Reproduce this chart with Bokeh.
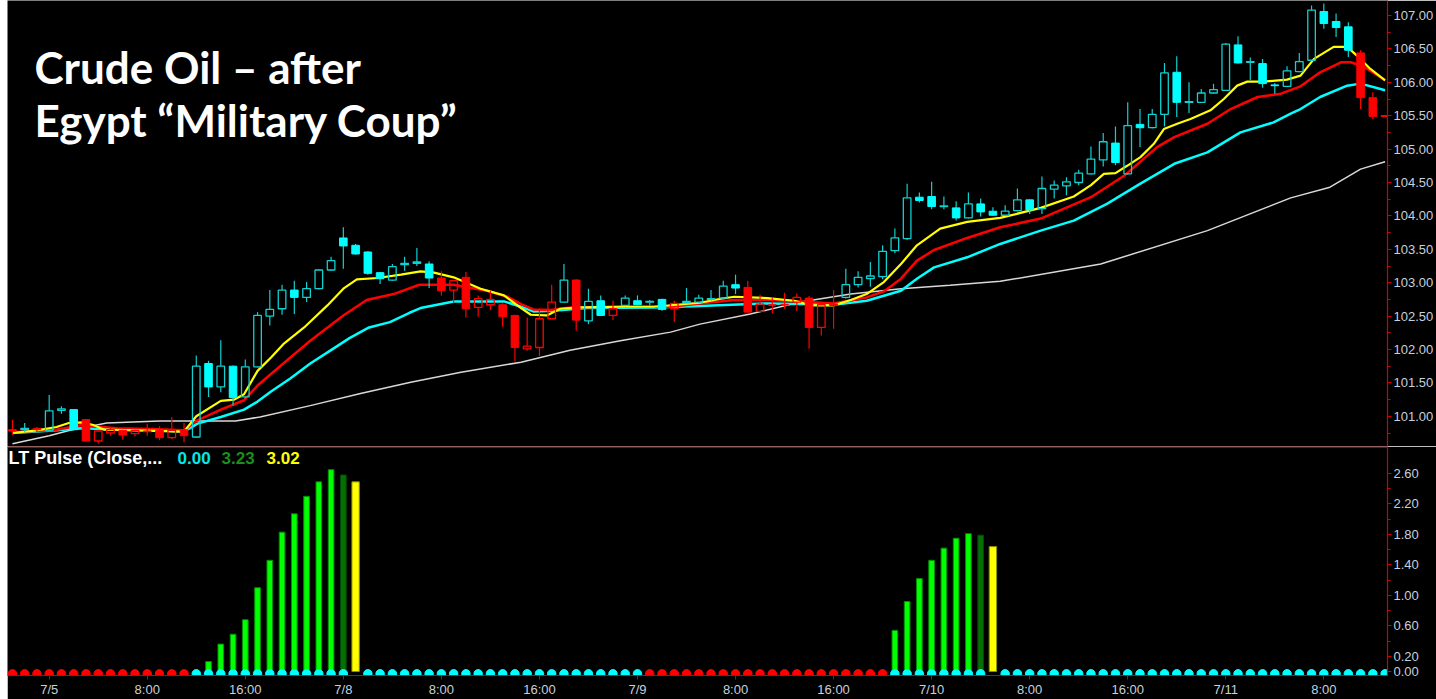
import numpy as np
from bokeh.plotting import figure
from bokeh.models import Range1d, FixedTicker, PrintfTickFormatter, Label, Span, ColumnDataSource, Div
from bokeh.layouts import column, row
from bokeh.embed import file_html
from bokeh.resources import INLINE

# ---------------- DATA ----------------
opens = [100.80, 100.80, 100.82, 100.79, 101.09, 101.10, 100.95, 100.63, 100.75, 100.79,
         100.74, 100.78, 100.79, 100.68, 100.80, 100.69, 101.79, 101.44, 101.75, 101.29,
         101.74, 102.50, 102.61, 102.89, 102.78, 102.91, 103.19, 103.67, 103.56, 103.46,
         103.15, 103.04, 103.27, 103.29, 103.28, 103.07, 102.89, 103.08, 102.63, 102.67,
         102.67, 102.51, 102.01, 102.03, 102.46, 102.71, 103.04, 102.43, 102.73, 102.51,
         102.66, 102.73, 102.71, 102.75, 102.61, 102.70, 102.71, 102.75, 102.77, 102.97,
         102.93, 102.57, 102.67, 102.67, 102.71, 102.77, 102.33, 102.66, 102.78, 102.97,
         103.06, 103.09, 103.48, 103.66, 104.28, 104.29, 104.14, 104.12, 103.97, 104.18,
         104.07, 104.01, 104.08, 104.24, 104.11, 104.40, 104.45, 104.50, 104.63, 104.84,
         105.09, 104.63, 105.37, 105.32, 105.52, 106.15, 105.70, 105.70, 105.84, 105.88,
         106.56, 106.30, 106.28, 105.96, 105.94, 106.16, 106.33, 107.06, 106.91, 106.83,
         106.44, 105.77, 105.49]
highs = [100.95, 100.90, 100.84, 101.32, 101.15, 101.11, 100.96, 100.79, 100.84, 100.80,
         100.80, 100.89, 100.85, 100.99, 100.90, 101.91, 101.83, 102.14, 101.76, 101.85,
         102.56, 102.89, 102.97, 103.03, 103.01, 103.20, 103.39, 103.83, 103.58, 103.47,
         103.16, 103.28, 103.39, 103.52, 103.32, 103.17, 103.04, 103.16, 102.81, 102.88,
         102.70, 102.52, 102.48, 102.61, 102.97, 103.28, 103.05, 102.91, 102.81, 102.73,
         102.81, 102.81, 102.74, 102.76, 102.73, 102.92, 102.82, 102.89, 103.03, 103.12,
         103.03, 102.82, 102.78, 102.85, 102.84, 102.80, 102.69, 102.89, 103.21, 103.17,
         103.31, 103.56, 103.81, 104.48, 104.35, 104.51, 104.29, 104.22, 104.35, 104.26,
         104.13, 104.16, 104.41, 104.25, 104.59, 104.53, 104.58, 104.69, 105.04, 105.24,
         105.34, 105.70, 105.60, 105.60, 106.29, 106.39, 106.00, 105.90, 105.98, 106.59,
         106.69, 106.37, 106.35, 105.99, 106.24, 106.44, 107.15, 107.18, 107.03, 106.90,
         106.48, 105.85, 105.50]
lows = [100.72, 100.76, 100.76, 100.78, 101.04, 100.80, 100.62, 100.59, 100.71, 100.65,
        100.70, 100.71, 100.64, 100.66, 100.61, 100.68, 101.29, 101.36, 101.16, 101.27,
        101.73, 102.36, 102.52, 102.53, 102.71, 102.90, 103.18, 103.21, 103.42, 103.12,
        102.98, 103.03, 103.18, 103.25, 102.92, 102.81, 102.70, 102.48, 102.49, 102.59,
        102.34, 101.82, 101.98, 101.90, 102.45, 102.70, 102.28, 102.38, 102.50, 102.44,
        102.65, 102.66, 102.66, 102.58, 102.41, 102.69, 102.70, 102.73, 102.75, 102.83,
        102.55, 102.56, 102.54, 102.61, 102.58, 102.01, 102.21, 102.31, 102.76, 102.93,
        102.94, 103.05, 103.44, 103.64, 104.20, 104.10, 104.10, 103.93, 103.96, 103.99,
        104.00, 104.00, 104.07, 104.03, 104.03, 104.26, 104.31, 104.46, 104.62, 104.74,
        104.76, 104.62, 105.03, 105.31, 105.34, 105.48, 105.54, 105.69, 105.83, 105.87,
        106.28, 106.03, 105.92, 105.83, 105.93, 106.15, 106.32, 106.80, 106.68, 106.38,
        105.60, 105.45, 105.49]
closes = [100.78, 100.82, 100.80, 101.08, 101.11, 100.80, 100.63, 100.78, 100.80, 100.72,
          100.79, 100.77, 100.68, 100.79, 100.71, 101.75, 101.44, 101.75, 101.28, 101.74,
          102.51, 102.60, 102.89, 102.78, 102.91, 103.19, 103.33, 103.55, 103.43, 103.14,
          103.06, 103.24, 103.29, 103.31, 103.07, 102.88, 103.03, 102.61, 102.76, 102.75,
          102.49, 102.03, 102.05, 102.46, 102.71, 103.04, 102.44, 102.72, 102.51, 102.61,
          102.77, 102.67, 102.72, 102.60, 102.69, 102.72, 102.77, 102.76, 102.95, 102.92,
          102.56, 102.68, 102.66, 102.67, 102.78, 102.33, 102.67, 102.68, 102.97, 103.08,
          103.10, 103.47, 103.67, 104.27, 104.23, 104.14, 104.15, 103.97, 104.18, 104.06,
          104.01, 104.07, 104.24, 104.09, 104.41, 104.46, 104.51, 104.64, 104.85, 105.11,
          104.80, 105.35, 105.32, 105.52, 106.14, 105.70, 105.71, 105.84, 105.89, 106.57,
          106.29, 106.31, 105.98, 105.95, 106.17, 106.31, 107.08, 106.88, 106.82, 106.48,
          105.77, 105.49, 105.50]
# bar colour state as drawn (up = cyan, dn = red)
candle_state = (["dn", "up", "dn", "up", "up", "up"] + ["dn"] * 9 + ["up"] * 20 + ["dn"] * 10
                + ["up", "dn", "up", "up", "dn", "up", "up", "up", "up", "dn", "up", "up", "up", "up", "up"]
                + ["dn"] * 8 + ["up"] * 42 + ["dn"] * 3)

# moving averages: (bar index, price) points
ma_fast_x = [0, 2, 3.6, 4.6, 5.7, 6.6, 7.5, 10, 14, 15, 17, 18.1, 18.9, 20, 21.1, 22.1, 23.8, 25.7, 27,
             28.1, 29.8, 31.7, 33.3, 34.4, 36, 38.2, 40.1, 41.5, 42.3, 43.6, 44.7, 46.3, 49.6, 52.3,
             56.1, 57.8, 58.9, 61.6, 63.8, 65.1, 67, 68.4, 69.7, 71.1, 72.5, 73.8, 75.7, 77.9, 80.6,
             83.9, 86.6, 88.0, 89.05, 90.0, 90.95, 92.04, 93.13, 93.95, 95.04, 96.12, 97.75, 98.84,
             99.93, 100.75, 102.1, 104.0, 105.1, 106.2, 107.8, 108.9, 109.7, 110.8, 112]
ma_fast_y = [100.75, 100.79, 100.84, 100.90, 100.91, 100.87, 100.80, 100.79, 100.77, 101.00, 101.23,
             101.25, 101.33, 101.68, 101.88, 102.08, 102.33, 102.66, 102.91, 103.05, 103.07, 103.12,
             103.17, 103.15, 103.08, 102.91, 102.81, 102.62, 102.52, 102.51, 102.61, 102.63, 102.64,
             102.64, 102.70, 102.76, 102.79, 102.77, 102.73, 102.66, 102.66, 102.74, 102.83, 103.01,
             103.28, 103.56, 103.81, 103.91, 103.97, 104.12, 104.29, 104.46, 104.63, 104.64, 104.75,
             104.88, 105.08, 105.30, 105.38, 105.45, 105.58, 105.75, 105.95, 106.01, 106.01, 106.04,
             106.10, 106.35, 106.53, 106.53, 106.40, 106.20, 106.03]
ma_mid_x = [0, 3.6, 5.7, 6.6, 8.5, 11.3, 14, 15.1, 17, 18.9, 20, 22.1, 24.3, 27, 28.9, 31.1, 33.2, 36,
            38.7, 40.4, 41.5, 42.5, 43.9, 45.5, 49.6, 53.7, 56.1, 58.9, 61.6, 64.3, 67, 69.7, 71.1,
            72.5, 73.8, 75.2, 77.9, 80.6, 83.9, 88, 90.7, 93.4, 94.8, 97.5, 99.4, 101.6, 103.5, 105.1,
            106.7, 108.4, 109.2, 110.3, 112]
ma_mid_y = [100.76, 100.80, 100.87, 100.85, 100.82, 100.81, 100.79, 100.94, 101.10, 101.24, 101.46,
            101.79, 102.13, 102.51, 102.74, 102.83, 102.97, 102.97, 102.88, 102.79, 102.68, 102.60,
            102.59, 102.63, 102.64, 102.64, 102.69, 102.74, 102.74, 102.72, 102.69, 102.78, 102.87,
            103.06, 103.33, 103.49, 103.67, 103.83, 103.96, 104.28, 104.60, 105.03, 105.18, 105.38,
            105.60, 105.78, 105.83, 105.94, 106.15, 106.30, 106.30, 106.23, 106.03]
ma_slow_x = [0, 3.6, 5.7, 7.2, 11.3, 14, 15.1, 17, 18.9, 20, 21.1, 22.7, 24.3, 25.9, 27.5, 29.1, 30.8,
             32.4, 33.3, 36, 40.1, 41.5, 42.5, 44.1, 46.9, 52.3, 56.1, 61.6, 64.3, 67, 69.7, 72.5,
             73.8, 75.2, 77.9, 80.6, 83.9, 86.6, 89.3, 92, 94.8, 97.5, 100.2, 102.9, 104.3, 105.1,
             106.7, 108.9, 110, 112]
ma_slow_y = [100.75, 100.79, 100.82, 100.81, 100.80, 100.77, 100.89, 100.99, 101.10, 101.22, 101.37,
             101.57, 101.79, 101.98, 102.17, 102.33, 102.41, 102.55, 102.62, 102.72, 102.72, 102.64,
             102.57, 102.58, 102.62, 102.63, 102.65, 102.69, 102.68, 102.67, 102.73, 102.88, 103.06,
             103.23, 103.38, 103.58, 103.78, 103.93, 104.18, 104.48, 104.78, 104.95, 105.25, 105.40,
             105.53, 105.60, 105.78, 105.95, 105.98, 105.88]
ma_long_x = [0, 3, 4.7, 7.7, 12, 18.2, 20.2, 24.3, 28.4, 32.5, 36.6, 41.5, 45.5, 49.6, 53.7, 56.1,
             60.2, 64.3, 68.4, 72.5, 76.5, 80.6, 88.8, 97.5, 104.3, 107.5, 110, 112]
ma_long_y = [100.59, 100.71, 100.79, 100.90, 100.93, 100.93, 100.99, 101.16, 101.34, 101.51, 101.66,
             101.81, 101.99, 102.13, 102.26, 102.38, 102.53, 102.71, 102.83, 102.91, 102.96, 103.02,
             103.28, 103.78, 104.27, 104.43, 104.70, 104.81]

# LT Pulse histogram
pulse_idx = [16, 17, 18, 19, 20, 21, 22, 23, 24, 25, 26, 27, 28,
             72, 73, 74, 75, 76, 77, 78, 79, 80]
pulse_val = [0.13, 0.36, 0.49, 0.68, 1.10, 1.46, 1.83, 2.07, 2.30, 2.49, 2.65, 2.58, 2.49,
             0.54, 0.92, 1.22, 1.46, 1.62, 1.75, 1.81, 1.79, 1.64]
pulse_kind = ["rise"] * 11 + ["peak", "last"] + ["rise"] * 7 + ["peak", "last"]
# zero-line dot state runs: (state, first index, last index)
dot_runs = [("dn", 0, 14), ("up", 15, 51), ("dn", 52, 71), ("up", 72, 112)]

tick_index = [3, 11, 19, 27, 35, 43, 51, 59, 67, 75, 83, 91, 99, 107]
tick_labels = ["7/5", "8:00", "16:00", "7/8", "8:00", "16:00", "7/9", "8:00", "16:00",
               "7/10", "8:00", "16:00", "7/11", "8:00"]
price_ticks = [101.0, 101.5, 102.0, 102.5, 103.0, 103.5, 104.0, 104.5, 105.0, 105.5, 106.0, 106.5, 107.0]
price_minor = [100.75, 101.25, 101.75, 102.25, 102.75, 103.25, 103.75, 104.25, 104.75, 105.25,
               105.75, 106.25, 106.75]
pulse_ticks = [0.0, 0.2, 0.6, 1.0, 1.4, 1.8, 2.2, 2.6]
pulse_minor = [0.4, 0.8, 1.2, 1.6, 2.0, 2.4]
legend_values = ["0.00", "3.23", "3.02"]

# ---------------- STYLE / LAYOUT ----------------
BG = "#000000"
AX = "#d40000"
TXT = "#c8d0dc"
CYAN = "#00ffff"
CYAN_LINE = "#10d0d0"
RED = "#ff0000"
LEFT = 7           # white strip at the left edge
W = 1436 - LEFT
H1 = 446
H2 = 699 - H1
RB = 49            # right border (price axis)
BB = 23            # bottom border (time axis)

# reference pixel calibration (page pixels)
X0, XSTEP = 11.93, 12.256
def bx(px):
    return (px - X0) / XSTEP
def py_price(py):
    return 107.0 - (py - 15.0) / 66.8
Z2, PX2 = 672.0, 76.5
def py_pulse(py):
    return (Z2 - py) / PX2

x_range = Range1d(bx(LEFT), bx(LEFT + W - RB))

def style_axis(ax):
    ax.axis_line_color = AX
    ax.axis_line_width = 1.2
    ax.major_tick_line_color = AX
    ax.minor_tick_line_color = AX
    ax.major_tick_in = 0
    ax.major_tick_out = 4
    ax.minor_tick_in = 0
    ax.minor_tick_out = 3
    ax.major_label_text_color = TXT
    ax.major_label_text_font = "Liberation Sans"
    ax.major_label_text_font_size = "13px"
    ax.major_label_standoff = 2

# ---------------- PRICE PANEL ----------------
p1 = figure(width=W, height=H1, x_range=x_range,
            y_range=Range1d(py_price(H1), py_price(0)),
            x_axis_location=None, y_axis_location="right",
            toolbar_location=None, output_backend="svg",
            background_fill_color=BG, border_fill_color=BG,
            min_border_left=0, min_border_right=RB, min_border_top=0, min_border_bottom=0)
p1.outline_line_color = None
p1.grid.visible = False
style_axis(p1.yaxis[0])
p1.yaxis[0].ticker = FixedTicker(ticks=price_ticks, minor_ticks=price_minor)
p1.yaxis[0].formatter = PrintfTickFormatter(format="%.2f")

p1.line(ma_long_x, ma_long_y, line_color="#d8d8d8", line_width=1.5)
p1.line(ma_slow_x, ma_slow_y, line_color=CYAN, line_width=2.5)
p1.line(ma_mid_x, ma_mid_y, line_color=RED, line_width=2.5)
p1.line(ma_fast_x, ma_fast_y, line_color="#ffff00", line_width=2.2)

o = np.array(opens); c = np.array(closes); h = np.array(highs); l = np.array(lows)
idx = np.arange(len(o))
top = np.maximum(o, c); bot = np.minimum(o, c)
mid = (top + bot) / 2
thin = (top - bot) < 0.012
top_d = np.where(thin, mid + 0.006, top)
bot_d = np.where(thin, mid - 0.006, bot)
state = np.array(candle_state)
fill_col = np.where(state == "up", CYAN, RED)
edge_col = np.where(state == "up", CYAN_LINE, RED)
hollow = c > o

wick = ColumnDataSource(dict(x=np.concatenate([idx, idx]),
                             y0=np.concatenate([h, bot_d]),
                             y1=np.concatenate([top_d, l]),
                             col=np.concatenate([edge_col, edge_col])))
p1.segment(x0="x", y0="y0", x1="x", y1="y1", line_color="col", line_width=1.2, source=wick)

hs = ColumnDataSource(dict(x=idx[hollow], top=top_d[hollow], bottom=bot_d[hollow], col=edge_col[hollow]))
p1.vbar(x="x", top="top", bottom="bottom", width=0.62, fill_alpha=0, line_color="col",
        line_width=1.3, source=hs)
fs = ColumnDataSource(dict(x=idx[~hollow], top=top_d[~hollow], bottom=bot_d[~hollow],
                           col=fill_col[~hollow]))
p1.vbar(x="x", top="top", bottom="bottom", width=0.62, fill_color="col", line_color="col",
        line_width=1, source=fs)

p1.add_layout(Label(x=bx(34), y=py_price(66), text="Crude Oil \u2013 after", text_color="white",
                    text_font="Lato", text_font_style="bold", text_font_size="44px",
                    text_baseline="middle"))
p1.add_layout(Label(x=bx(34), y=py_price(119), text="Egypt \u201cMilitary Coup\u201d", text_color="white",
                    text_font="Lato", text_font_style="bold", text_font_size="44px",
                    text_baseline="middle"))

# ---------------- PULSE PANEL ----------------
frame2 = H2 - BB
p2 = figure(width=W, height=H2, x_range=x_range,
            y_range=Range1d(py_pulse(H1 + frame2), py_pulse(H1)),
            y_axis_location="right", x_axis_location="below",
            toolbar_location=None, output_backend="svg",
            background_fill_color=BG, border_fill_color=BG,
            min_border_left=0, min_border_right=RB, min_border_top=0, min_border_bottom=BB)
p2.outline_line_color = None
p2.grid.visible = False
style_axis(p2.yaxis[0])
p2.yaxis[0].ticker = FixedTicker(ticks=pulse_ticks, minor_ticks=pulse_minor)
p2.yaxis[0].formatter = PrintfTickFormatter(format="%.2f")
style_axis(p2.xaxis[0])
p2.xaxis[0].ticker = FixedTicker(ticks=tick_index, minor_ticks=[])
p2.xaxis[0].major_label_overrides = {t: s for t, s in zip(tick_index, tick_labels)}
p2.add_layout(Span(location=py_pulse(H1 + 0.6), dimension="width", line_color=AX, line_width=1.3))

kind = np.array(pulse_kind)
bar_fill = np.where(kind == "rise", "#00ff00", np.where(kind == "peak", "#067006", "#ffff00"))
bar_line = np.where(kind == "rise", "#009000", np.where(kind == "peak", "#024a02", "#8c8c00"))
bar_w = np.where(kind == "last", 0.6, 0.46)
bs = ColumnDataSource(dict(x=pulse_idx, top=pulse_val, fc=bar_fill, lc=bar_line, w=bar_w))
p2.vbar(x="x", top="top", bottom=0, width="w", fill_color="fc", line_color="lc", line_width=1, source=bs)

last_idx = set(i for i, k in zip(pulse_idx, pulse_kind) if k == "last")
dx, dc = [], []
for st, a, b in dot_runs:
    for i in range(a, b + 1):
        if i in last_idx:
            continue
        dx.append(i)
        dc.append(CYAN if st == "up" else RED)
p2.scatter(dx, [-0.03] * len(dx), size=8.5, marker="circle", fill_color=dc, line_color=dc)

lx = [177, 221, 266]
lcol = ["#00e8e8", "#1e8c1e", "#ffff00"]
p2.add_layout(Label(x=bx(8), y=py_pulse(458), text="LT Pulse (Close,...", text_color="white",
                    text_font="Liberation Sans", text_font_style="bold", text_font_size="18px",
                    text_baseline="middle"))
for px, t, col in zip(lx, legend_values, lcol):
    p2.add_layout(Label(x=bx(px), y=py_pulse(458), text=t, text_color=col,
                        text_font="Liberation Sans", text_font_style="bold", text_font_size="17px",
                        text_baseline="middle"))

strip = Div(text="", width=LEFT, height=699, margin=0, styles={"background-color": "white"})
layout = row(strip, column(p1, p2, spacing=0), spacing=0)
open("out.html", "w").write(file_html(layout, INLINE))
